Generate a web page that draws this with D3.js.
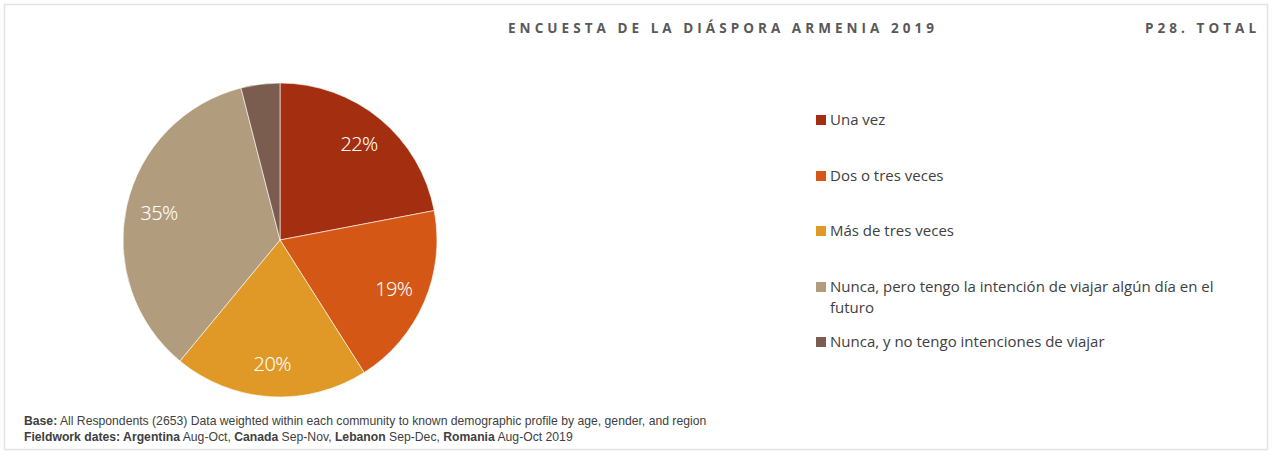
<!DOCTYPE html>
<html>
<head>
<meta charset="utf-8">
<script src="https://cdn.jsdelivr.net/npm/d3@7"></script>
<style>
  html, body { margin: 0; padding: 0; background: #ffffff; }
  svg { display: block; }
</style>
</head>
<body>
<svg id="chart" width="1273" height="451"></svg>
<script>
// Survey answers and shares (%)
const categories = [
  "Una vez",
  "Dos o tres veces",
  "Más de tres veces",
  "Nunca, pero tengo la intención de viajar algún día en el futuro",
  "Nunca, y no tengo intenciones de viajar"
];
const values = [22, 19, 20, 35, 4];
const labels = ["22%", "19%", "20%", "35%", ""];
const colors = ["#A32F10", "#D45716", "#E09826", "#B19C7D", "#7B5D50"];

const svg = d3.select("#chart");

// outer frame
svg.append("rect")
  .attr("x", 4.5).attr("y", 4.5)
  .attr("width", 1263).attr("height", 445)
  .attr("fill", "none").attr("stroke", "#e3e3e3").attr("stroke-width", 1.5);

// header
const header = svg.append("g")
  .attr("font-family", "'Open Sans', 'Liberation Sans', sans-serif")
  .attr("font-weight", "bold")
  .attr("font-size", 13.5)
  .attr("fill", "#595959")
  .style("letter-spacing", "4.05px");
header.append("text").attr("x", 508).attr("y", 33).text("ENCUESTA DE LA DIÁSPORA ARMENIA 2019");
header.append("text").attr("x", 1145).attr("y", 33).text("P28. TOTAL");

// pie
const cx = 280, cy = 240, R = 157;
const pie = d3.pie().sort(null).value(d => d.v);
const data = values.map((v, i) => ({ v, i }));
const arcs = pie(data);
const arc = d3.arc().innerRadius(0).outerRadius(R);
const labelArc = d3.arc().innerRadius(R * 0.79).outerRadius(R * 0.79);

const g = svg.append("g").attr("transform", `translate(${cx},${cy})`);
g.selectAll("path.slice")
  .data(arcs)
  .join("path")
  .attr("class", "slice")
  .attr("d", arc)
  .attr("fill", d => colors[d.data.i])
  .attr("stroke", "#ffffff")
  .attr("stroke-width", 0.6);

g.selectAll("text.pct")
  .data(arcs)
  .join("text")
  .attr("class", "pct")
  .attr("transform", d => `translate(${labelArc.centroid(d)})`)
  .attr("text-anchor", "middle")
  .attr("dy", "0.35em")
  .attr("font-family", "'Noto Sans', 'Liberation Sans', sans-serif")
  .attr("font-weight", 300)
  .attr("font-size", 20)
  .attr("fill", "#ffffff")
  .style("letter-spacing", "-0.6px")
  .text(d => labels[d.data.i]);

// legend
const legendY = [120, 176, 231, 287, 342];
const legend = svg.append("g")
  .attr("font-family", "'Open Sans', 'Liberation Sans', sans-serif")
  .attr("font-size", 15)
  .attr("fill", "#404040");

categories.forEach((c, i) => {
  const row = legend.append("g").attr("transform", `translate(816,${legendY[i]})`);
  row.append("rect").attr("x", 0).attr("y", -5).attr("width", 10).attr("height", 10)
    .attr("fill", colors[i]);
  if (i === 3) {
    row.append("text").attr("x", 14).attr("y", 5).text("Nunca, pero tengo la intención de viajar algún día en el");
    row.append("text").attr("x", 14).attr("y", 26).text("futuro");
  } else {
    row.append("text").attr("x", 14).attr("y", 5).text(c);
  }
});

// footnotes
const foot = svg.append("g")
  .attr("font-family", "'Liberation Sans', sans-serif")
  .attr("font-size", 12.2)
  .attr("fill", "#404040");
const f1 = foot.append("text").attr("x", 24).attr("y", 425);
f1.append("tspan").attr("font-weight", "bold").text("Base:");
f1.append("tspan").text(" All Respondents (2653) Data weighted within each community to known demographic profile by age, gender, and region");
const f2 = foot.append("text").attr("x", 24).attr("y", 441);
[["Fieldwork dates: ", true], ["Argentina", true], [" Aug-Oct, ", false], ["Canada", true], [" Sep-Nov,  ", false],
 ["Lebanon", true], [" Sep-Dec, ", false], ["Romania", true], [" Aug-Oct 2019", false]]
  .forEach(([t, b]) => f2.append("tspan").attr("font-weight", b ? "bold" : "normal").text(t));
</script>
</body>
</html>
